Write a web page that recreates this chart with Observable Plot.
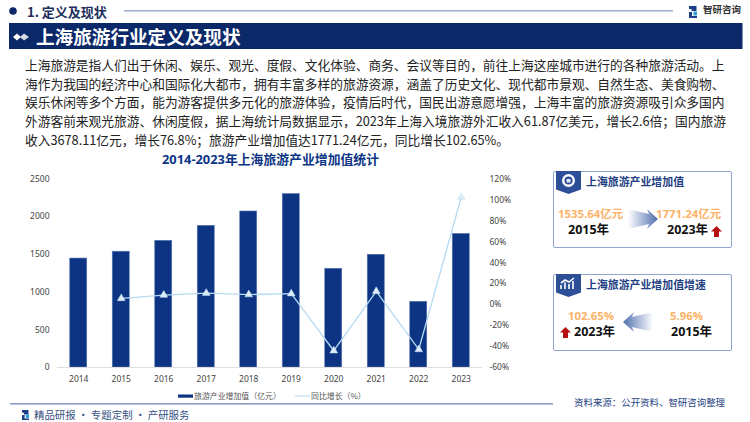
<!DOCTYPE html>
<html lang="zh">
<head>
<meta charset="utf-8">
<script src="https://cdn.jsdelivr.net/npm/d3@7"></script>
<script src="https://cdn.jsdelivr.net/npm/@observablehq/plot@0.6"></script>
<style>
html,body{margin:0;padding:0;background:#fff}
#page{position:relative;width:750px;height:422px;overflow:hidden;font-family:"Noto Sans CJK SC","Noto Sans",sans-serif}
.t{position:absolute;white-space:nowrap;line-height:1}
.abs{position:absolute;display:block}
.box{position:absolute;left:553px;width:177px;height:75px;border:1.5px solid #8ea4cf;border-radius:2px;box-sizing:content-box}
.val{color:#fbb266;font-weight:700;font-size:11.4px;font-family:"Open Sans","Noto Sans CJK SC",sans-serif}
.yr{color:#111;font-weight:700;font-size:12.5px;font-family:"Open Sans","Noto Sans CJK SC",sans-serif}
.bt{color:#1f3f84;font-weight:700;font-size:11px}
</style>
</head>
<body>
<div id="page"></div>
<script>
const years = ["2014","2015","2016","2017","2018","2019","2020","2021","2022","2023"];
const valueAdded = [1445,1535.64,1680,1879,2069,2300,1309,1495,871,1771.24];
const growthYears = ["2015","2016","2017","2018","2019","2020","2021","2022","2023"];
const growthPct = [5.96,9.2,11,9.6,10.5,-44,12.7,-42.8,102.65];
const leftTicks = [0,500,1000,1500,2000,2500];
const rightTicks = [-60,-40,-20,0,20,40,60,80,100,120];
const bodyLines = [
"上海旅游是指人们出于休闲、娱乐、观光、度假、文化体验、商务、会议等目的，前往上海这座城市进行的各种旅游活动。上",
"海作为我国的经济中心和国际化大都市，拥有丰富多样的旅游资源，涵盖了历史文化、现代都市景观、自然生态、美食购物、",
"娱乐休闲等多个方面，能为游客提供多元化的旅游体验，疫情后时代，国民出游意愿增强，上海丰富的旅游资源吸引众多国内",
"外游客前来观光旅游、休闲度假，据上海统计局数据显示，2023年上海入境旅游外汇收入61.87亿美元，增长2.6倍；国内旅游",
"收入3678.11亿元，增长76.8%；旅游产业增加值达1771.24亿元，同比增长102.65%。"
];

const page = document.getElementById("page");
function text(s, left, cy, size, color, extra){
  const d = document.createElement("div");
  d.className = "t";
  d.textContent = s;
  d.style.cssText = `left:${left}px;top:${cy - size/2}px;font-size:${size}px;color:${color};${extra||""}`;
  page.appendChild(d);
  return d;
}
function deco(markup){ page.insertAdjacentHTML("beforeend", markup); }

/* header */
deco(`<svg class="abs" style="left:0;top:0" width="750" height="60">
 <circle cx="13" cy="11" r="3.8" fill="#0b2869"/>
 <rect x="124" y="10" width="549" height="1.6" fill="#a3b1d3"/>
 <rect x="9" y="23" width="733.5" height="26" fill="#0b2869"/>
 <path d="M13 37l4-3.6 4 3.6-4 3.6z" fill="#fff"/><path d="M20 37l4-3.6 5 3.6-5 3.6z" fill="#d8dbe4"/>
 <path d="M689 6h7.5v5h-5v-2h-2.500z" fill="#1c3f87"/><path d="M689 12h3v4h5v2h-8z" fill="#1c3f87"/><path d="M693.500 11.500h3.500v4h-3.500z" fill="#2f9fd8"/>
</svg>`);
text("1. 定义及现状", 27, 11.500, 13, "#1d2f5c", "font-weight:700");
text("智研咨询", 703, 10, 9.5, "#333", "font-weight:700");
text("上海旅游行业定义及现状", 36, 36.500, 18.6, "#fff", "font-weight:700");

/* body copy */
bodyLines.forEach((s,i)=> text(s, 25, 65.5 + i*18.6, 12.72, "#222"));

/* chart title */
text("2014-2023年上海旅游产业增加值统计", 162, 159, 12.85, "#0c3585", 'font-weight:700;font-family:"Open Sans","Noto Sans CJK SC",sans-serif');

/* chart: two overlaid Plot figures sharing the same x band, each with its own y scale */
const W = 750, H = 235, TOP = 165;
const M = {marginLeft:57, marginRight:268, marginTop:13.5, marginBottom:33};
const xOpt = {domain:years, paddingInner:0.6, paddingOuter:0.3, align:0.5, round:false};
const styleOpt = {fontFamily:'"Noto Sans","Noto Sans CJK SC",sans-serif', fontSize:"8.5px", color:"#444", background:"transparent", overflow:"visible"};

const barsPlot = Plot.plot({
  width:W, height:H, ...M, style:styleOpt,
  x:{...xOpt, label:null},
  y:{domain:[0,2500], label:null},
  marks:[
    Plot.barY(years.map((y,i)=>({y, v:valueAdded[i]})), {x:"y", y:"v", fill:"#0c3482", stroke:"#5877b3", strokeWidth:0.6}),
    Plot.ruleY([0], {stroke:"#dfdfdf", strokeWidth:1}),
    Plot.axisY({ticks:leftTicks, tickSize:0, tickPadding:8, tickFormat:d=>String(d), label:null, fill:"#444"}),
    Plot.axisX({tickSize:0, tickPadding:8, label:null, fill:"#444"})
  ]
});
const linePlot = Plot.plot({
  width:W, height:H, ...M, style:styleOpt,
  x:{...xOpt, axis:null},
  y:{domain:[-60,120], label:null},
  marks:[
    Plot.line(growthYears.map((y,i)=>({y, v:growthPct[i]})), {x:"y", y:"v", stroke:"#b5daf2", strokeWidth:1.3}),
    Plot.dot(growthYears.map((y,i)=>({y, v:growthPct[i]})), {x:"y", y:"v", symbol:"triangle", r:2.900, fill:"#dcedf8", stroke:"#c4e0f3", strokeWidth:0.5}),
    Plot.axisY({anchor:"right", ticks:rightTicks, tickSize:0, tickPadding:7, tickFormat:d=>d+"%", label:null, fill:"#444"})
  ]
});
[barsPlot, linePlot].forEach(p=>{
  p.style.position="absolute"; p.style.left="0"; p.style.top=TOP+"px";
  page.appendChild(p);
});

/* legend */
deco(`<svg class="abs" style="left:170px;top:390px" width="150" height="12">
 <rect x="8" y="4.500" width="15" height="3.200" fill="#0c3482"/>
 <rect x="125" y="5.500" width="15" height="1" fill="#b5daf2"/>
</svg>`);
text("旅游产业增加值（亿元）", 194, 396, 7.9, "#555");
text("同比增长（%）", 311, 396, 7.9, "#555");

/* side panels */
const ribbon = (top,inner)=>`<svg class="abs" style="left:556px;top:${top}px" width="26" height="24">
 <path d="M0 0H25V18.500L12.500 23 0 18.500z" fill="#2c4f98"/>${inner}</svg>`;
const upArrow = (l,t)=>`<svg class="abs" style="left:${l}px;top:${t}px" width="12" height="11"><path d="M5.500 0L11 5.500H8V11H3V5.500H0z" fill="#b50f10"/></svg>`;
const gradArrow = (l,t,id,flip)=>`<svg class="abs" style="left:${l}px;top:${t}px" width="30" height="20">
 <defs><linearGradient id="${id}" x1="${flip?1:0}" x2="${flip?0:1}" y1="0" y2="0"><stop offset="0" stop-color="#4f6fae" stop-opacity="0"/><stop offset="1" stop-color="#4f6fae"/></linearGradient></defs>
 <path d="${flip?"M0 10L11 0 9 5 30 0V20L9 15 11 20z":"M30 10L19 0 21 5 0 0V20L21 15 19 20z"}" fill="url(#${id})"/></svg>`;

deco(`<div class="box" style="top:171px"></div>`);
deco(ribbon(171,`<circle cx="12.500" cy="9.500" r="5.300" fill="none" stroke="#fff" stroke-width="2.400"/><rect x="10.500" y="8" width="4" height="3.500" fill="#dfe6f4"/>`));
text("上海旅游产业增加值", 586, 181, 10.9, "#1f3f84", "font-weight:700").className="t bt";
text("1535.64亿元", 558, 214, 11.4, "#fbb266").className="t val";
text("2015年", 568, 230, 12.5, "#111").className="t yr";
deco(gradArrow(628,209,"g1",false));
text("1771.24亿元", 656, 214, 11.4, "#fbb266").className="t val";
text("2023年", 667, 230, 12.5, "#111").className="t yr";
deco(upArrow(711,226));

deco(`<div class="box" style="top:274px"></div>`);
deco(ribbon(274,`<path d="M5 15V11M9 15V8.500M13 15V10M17 15V7M5 9l4-3 4 2 5-4" fill="none" stroke="#fff" stroke-width="1.600"/>`));
text("上海旅游产业增加值增速", 586, 284, 10.9, "#1f3f84", "font-weight:700").className="t bt";
text("102.65%", 568, 316, 11.4, "#fbb266").className="t val";
text("5.96%", 670, 316, 11.4, "#fbb266").className="t val";
deco(gradArrow(623,312,"g2",true));
deco(upArrow(560,327));
text("2023年", 574, 332, 12.5, "#111").className="t yr";
text("2015年", 671, 332, 12.5, "#111").className="t yr";

/* footer */
deco(`<svg class="abs" style="left:0;top:400px" width="560" height="22">
 <rect x="10" y="3" width="543" height="1.600" fill="#8a9cc8"/>
 <path d="M22 10h6.500v4.500h-4.500v-1.800h-2z" fill="#1c3f87"/><path d="M22 15h2.600v3.500h4.400v1.500h-7z" fill="#1c3f87"/><path d="M25.800 14.500h3.200v3.500h-3.200z" fill="#2f9fd8"/>
</svg>`);
text("精品研报 · 专题定制 · 产研服务", 34, 415, 10.45, "#35507f");
text("资料来源：公开资料、智研咨询整理", 574, 403, 9.45, "#1f3f84");
</script>
</body>
</html>
